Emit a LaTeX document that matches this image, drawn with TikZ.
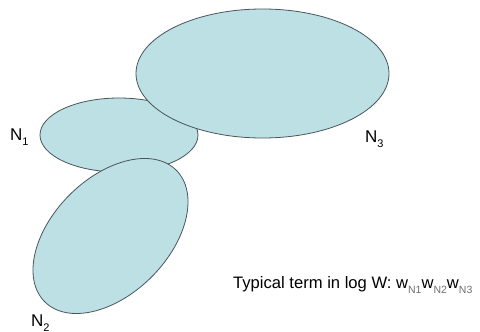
\documentclass[tikz,border=0pt]{standalone}
\usepackage{fontspec}
\setmainfont{Liberation Sans}
\usetikzlibrary{shapes.geometric}
\definecolor{blobfill}{RGB}{188,224,228}
\definecolor{blobline}{RGB}{72,86,90}
\definecolor{subgrey}{RGB}{110,110,110}
\newcommand\sbs[1]{\raisebox{-5pt}{\fontsize{11}{11}\selectfont #1}}
\newcommand\wsb[1]{w\raisebox{-5pt}{\fontsize{10.5}{10.5}\selectfont\color{subgrey}#1}}
\begin{document}
\begin{tikzpicture}[x=1pt,y=-1pt,
  blob/.style={ellipse,draw=blobline,fill=blobfill,line width=0.8pt,inner sep=0pt,outer sep=0pt},
  lbl/.style={anchor=base west,inner sep=0pt,font=\fontsize{17}{17}\selectfont}]
\useasboundingbox (0,0) rectangle (480,332);
\node[blob,minimum width=158pt,minimum height=74pt] (n1) at (119,135) {};
\node[blob,minimum width=186pt,minimum height=116pt,rotate=45] (n2) at (110.5,236) {};
\node[blob,minimum width=253pt,minimum height=129pt] (n3) at (262.5,73.5) {};
\node[lbl] (l1) at (10,140) {N\sbs{1}};
\node[lbl] (l2) at (31,326) {N\sbs{2}};
\node[lbl] (l3) at (365,142) {N\sbs{3}};
\node[lbl,font=\fontsize{16.6}{16.6}\selectfont] (t) at (233,288) {Typical term in log W: \wsb{N1}\wsb{N2}\wsb{N3}};
\end{tikzpicture}
\end{document}
